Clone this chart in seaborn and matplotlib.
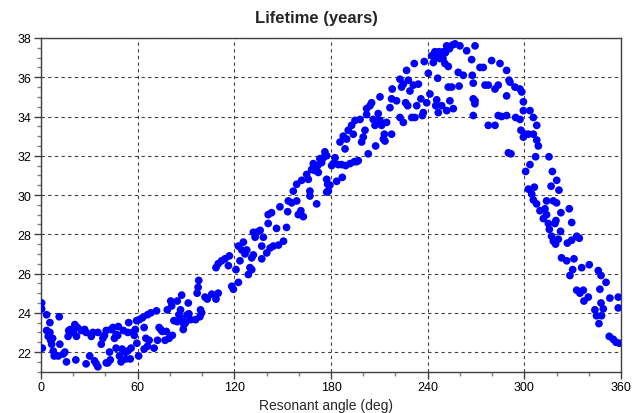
import numpy as np
import pandas as pd
import matplotlib
matplotlib.use("Agg")
import matplotlib.pyplot as plt
import seaborn as sns
from matplotlib.ticker import MultipleLocator

# ---- data (resonant angle in deg, lifetime in years) ----
angle_a = [0.4,0.4,0.8,3.5,3.5,4.5,5.5,5.5,6,6.6,7.2,7.6,8.2,10.7,11.3,11.7,13.8,14.8,15.8,16.8,17.2,18.3,20,21,21.6,22,22.6,25,27.1,28,28,30.2,31.2,32.2,33.2,34.3,35.3,35.3,37.4,38.4,39.4,40.5,40.5,41.5,42.5,43,43.5,44.6,45.6,46.6,46.6,47.6,48,48.7,49.7,50.3,51.1,52.4,52.8,53.8,53.8,54.4,55.4,55.9,56.9,57.9,58.5,59.3,59.5,60.6,61,63,64,64,65.1,66.1,66.1,67.1,68.2,70.2,71.7,72.3,73.3,74.3,75.3,77,77.8,78.4,79.5,80.5,81.1,81.5,82.5,84.6,84.6,85.6,86.6,87.3,87.7,88.3,88.7,89.7,90.8,91.4,91.8,92.8,95.9,96.9,97.5,97.9]
life_a = [24.5,24.2,22.2,23.9,23.1,22.8,23.5,23.0,22.6,22.4,22.7,22.05,21.8,21.8,23.8,22.4,21.9,22.0,21.5,22.8,23.1,23.15,23.0,23.4,21.6,22.8,23.25,23.1,23.15,21.4,23.0,21.8,22.8,23.0,21.55,21.4,21.25,23.0,22.4,22.7,22.85,23.1,21.45,21.45,22.0,21.6,23.15,23.25,22.7,22.9,22.2,22.85,23.3,21.8,21.5,22.15,23.1,22.0,21.65,22.05,23.0,23.5,21.65,22.2,23.0,22.85,23.15,23.6,22.45,21.8,23.65,23.75,23.25,22.15,22.7,23.9,22.3,22.6,24.0,22.2,24.1,22.6,23.25,23.15,23.05,22.6,23.05,24.15,22.7,24.6,24.35,22.85,23.6,24.6,23.55,23.9,24.15,24.9,23.7,23.15,23.4,23.5,23.9,24.5,23.95,23.65,23.65,25.0,25.3,25.65]

angle_b = [98.6,99.0,99.7,101.8,103.2,106,108.6,110,108.6,110,112.1,114.2,116.3,116.9,118.4,119.4,121,122.5,122.5,123.5,124.6,125.6,126.6,127.7,128.7,129.7,130.8,130.8,131.8,132.9,131.8,133.9,136,137,137,138,140.1,142.2,144.2,147.4,150.5]
life_b = [23.8,24.15,24.0,24.8,24.7,24.95,24.7,25.0,26.3,26.5,26.65,26.75,26.4,26.9,25.35,25.2,26.2,25.55,27.4,26.65,27.2,27.6,27.0,27.2,25.95,26.3,26.2,26.8,26.95,27.85,28.1,28.1,28.2,27.4,26.75,27.85,27.05,27.3,27.4,27.45,27.65]

angle_c = [141,143.1,141,146.2,148.3,152.4,153.1,153.5,155.6,156.6,158.7,158.7,159.7,161.3,161.8,162.8,164.9,165.9,166.9,166.9,168,169,170,171.1,171.7,172.1,173.1,174.2,175.2,176.2,177.3,177.3,177.9,177.3,178.3,179.3,180.4,181.4,182.5,183.5,184.5,185.6,186.6,187,187.6,188.7,189.1,189.7,190.7,191.8,192.8,193.8,194.5,194.9,195.9,196.9,198,199,200,201.1,202.1,202.1,203.1,204.2,205.2,206.2,207.3,207.7,209.3,210.4,210.4,211.4,212.5,213.1]
life_c = [29.0,29.1,28.55,28.3,29.4,28.35,29.15,29.7,29.6,30.2,29.7,30.55,29.0,29.2,30.75,28.9,31.05,30.8,30.2,29.95,31.3,31.6,31.25,29.55,31.5,31.15,31.85,31.65,31.9,32.2,32.0,30.8,30.55,30.15,30.2,30.5,31.5,31.6,31.9,30.7,31.55,32.7,31.55,30.9,33.0,32.35,31.5,32.85,33.3,31.6,33.55,33.1,31.7,33.8,31.7,31.75,33.85,32.7,32.95,33.3,34.1,34.4,32.1,34.55,34.7,33.85,33.55,32.5,34.15,33.8,35.0,33.55,32.85,33.1]

angle_d = [213.5,214.5,217.6,216.6,217.6,218,220.7,222.8,222.8,223.8,224.9,224.9,226.3,226.9,227.6,228,229,230.1,231.1,231.7,232.1,233.2,234.2,235.8,236.7,237.3,237.9,239.4,240.4,241.4,242.5,243.5,244.5,245,245.6,246.2,246.6,247.6,248.7,249.7,250.7,251.8,251.8,252.8,252.8,253.8,254.9,255.9,257,259,259.5,260,262.1,264.2,267.3,267.7,268.3,268.3,268.3,269.4,269.4,272.5,274.5,275.6,277.6,277.6,279.7,281.8,281.8,283.8,283.8,284.9,285.9,289,289,289]
life_d = [32.75,33.7,33.1,34.45,34.9,35.4,34.8,33.95,35.9,35.5,33.7,35.65,34.7,36.35,34.55,35.85,35.3,33.95,35.6,36.7,33.95,34.55,35.65,34.9,34.05,34.2,36.8,34.7,36.2,35.15,37.1,36.75,37.3,34.55,34.85,35.95,34.2,36.95,34.55,37.3,36.7,37.6,34.3,36.55,35.5,34.8,35.5,34.4,37.7,36.25,35.55,37.6,36.1,37.35,36.9,36.1,35.7,34.9,34.05,34.8,37.6,36.5,36.5,35.6,35.6,33.55,36.85,33.55,35.4,35.6,34.05,36.7,34.0,36.35,34.05,35.05]

angle_e = [244.8,247.0,249.5,251.0,253.5,255.5,269.3]
life_e = [37.0,37.3,36.95,37.25,37.45,37.65,34.65]

angle_f = [290.5,291.1,294.2,297.3,298.4,299.4,299.4,303.5,305.6,307.7,297.9,300.4,302.5,305.6,299.4,307.7,308.7,290.1,291.7,307,315.3,303.5,300.8,317.4,320.1,306.2,302.5,316.6,321.5,304.6,294.6,297.3]
life_f = [35.85,35.75,35.5,35.4,35.25,34.75,34.3,34.3,33.95,33.55,33.3,33.1,33.1,33.1,32.95,32.8,32.5,32.15,32.1,31.95,31.95,31.55,31.2,31.2,30.75,30.4,30.3,30.45,30.25,30.05,33.95,33.85]

angle_g = [305.6,307.6,309.7,311.8,312.8,313.8,313.8,318,320,314.9,315.5,316.9,318,319,319.6,319.4,321.1,322.5,322.7,327.9,329.4,326.7,329.4,332.5,334.1,323.1,326.3,330.8,330,328.3,335.6,340.3,332.5,334.5,336.6,337,339.7,345.9,347.6,350.7,346.9,347.6,353.1,349,343.8,344.8,347.9,346.3,358.3,358.3,352.7,355.2,356.9,359]
life_g = [29.75,29.55,29.2,28.8,29.3,29.0,29.7,29.7,29.6,28.55,28.25,27.9,27.65,28.55,28.7,27.5,27.75,28.15,29.1,29.3,28.6,27.55,27.7,27.9,27.8,26.8,26.65,26.75,26.2,25.9,26.3,26.45,25.15,25.0,25.15,24.6,24.8,26.15,25.9,25.55,25.2,24.5,24.75,24.2,24.15,23.85,23.85,23.45,24.8,24.25,22.8,22.65,22.5,22.45]

x_ticks = [0, 60, 120, 180, 240, 300, 360]
y_ticks = [22, 24, 26, 28, 30, 32, 34, 36, 38]
title = "Lifetime (years)"
xlabel = "Resonant angle (deg)"

angles = angle_a + angle_b + angle_c + angle_d + angle_e + angle_f + angle_g
lifes = life_a + life_b + life_c + life_d + life_e + life_f + life_g
n = min(len(angles), len(lifes))
df = pd.DataFrame({"angle": angles[:n], "lifetime": lifes[:n]})

sns.set_style("white")
plt.rcParams["font.family"] = ["Liberation Sans", "DejaVu Sans"]

fig = plt.figure(figsize=(6.32, 4.14), dpi=100)
ax = fig.add_axes([0.0649, 0.0998, 0.9177, 0.806])

sns.scatterplot(data=df, x="angle", y="lifetime", ax=ax, color="#0000FF",
                s=31, marker="o", linewidth=0, edgecolor="none", zorder=3)

ax.set_xlim(0, 360)
ax.set_ylim(21, 38)
ax.set_xticks(x_ticks)
ax.set_yticks(y_ticks)
ax.xaxis.set_minor_locator(MultipleLocator(20))
ax.yaxis.set_minor_locator(MultipleLocator(0.5))
ax.tick_params(which="major", direction="out", length=5, width=1, color="#404040",
               labelsize=9, labelcolor="black", pad=2,
               bottom=True, left=True, top=False, right=False)
ax.tick_params(which="minor", direction="out", length=3, width=1, color="#808080",
               bottom=True, left=True, top=False, right=False)
ax.grid(True, which="major", color="#404040", linestyle=(0, (3, 3)), linewidth=0.8)
ax.set_axisbelow(True)
for sp in ax.spines.values():
    sp.set_visible(True)
    sp.set_color("#404040")
    sp.set_linewidth(1)

fig.text(0.5, 0.955, title, fontsize=12, fontweight="bold", ha="center", va="center")
ax.set_xlabel(xlabel, fontsize=10, labelpad=2)
ax.xaxis.set_label_coords(0.4905, -0.078)
ax.xaxis.label.set_va("top")
ax.set_ylabel("")

fig.savefig("out.png", dpi=100)
